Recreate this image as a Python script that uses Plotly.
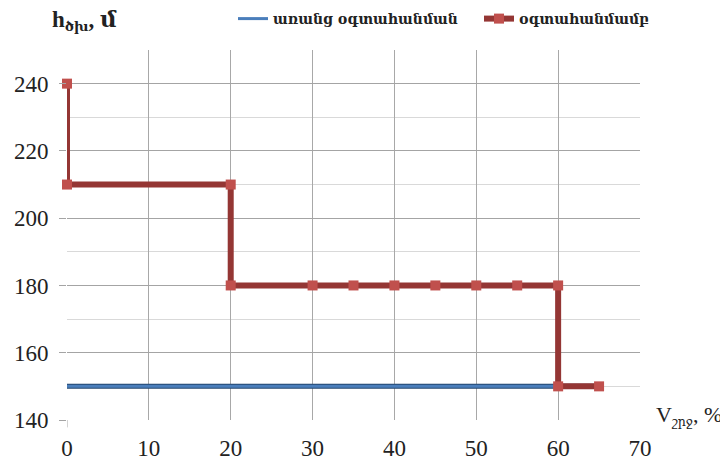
import plotly.graph_objects as go

# Data
blue_name = "առանց օգտահանման"
red_name = "օգտահանմամբ"
blue_x = [0, 65]
blue_y = [150, 150]
red_x = [0, 0, 20, 20, 30, 35, 40, 45, 50, 55, 60, 60, 65]
red_y = [240, 210, 210, 180, 180, 180, 180, 180, 180, 180, 180, 150, 150]
x_ticks = [0, 10, 20, 30, 40, 50, 60, 70]
y_ticks = [140, 160, 180, 200, 220, 240]

FONT = "Liberation Serif, DejaVu Serif"
TXT = "#222222"

# page body has an 8px margin: figure is sized/placed to compensate
PL, PR, PT, PB = 67, 640, 50, 420  # plot area in screen pixels


def px(sx):
    return (sx - PL) / (PR - PL)


def py(sy):
    return (PB - sy) / (PB - PT)


fig = go.Figure()
fig.add_trace(go.Scatter(x=blue_x, y=blue_y, mode="lines", name=blue_name,
                         line=dict(color="#23466e", width=5), showlegend=False,
                         hoverinfo="skip", cliponaxis=False))
fig.add_trace(go.Scatter(x=blue_x, y=blue_y, mode="lines", name=blue_name,
                         line=dict(color="#4a7ebb", width=3), cliponaxis=False))
fig.add_trace(go.Scatter(x=red_x, y=red_y, mode="lines+markers", name=red_name,
                         line=dict(color="#943634", width=6),
                         marker=dict(symbol="square", size=10, color="#c0504d"),
                         cliponaxis=False))

fig.update_layout(
    width=720, height=462,
    margin=dict(l=59, r=88, t=42, b=50, autoexpand=False),
    plot_bgcolor="white", paper_bgcolor="white",
    font=dict(family=FONT, size=23, color=TXT),
    showlegend=True,
    legend=dict(orientation="h", x=px(233), y=py(3),
                xanchor="left", yanchor="top",
                font=dict(family="DejaVu Serif", size=14, color=TXT, weight="bold"),
                bgcolor="rgba(0,0,0,0)", itemwidth=30, entrywidth=201,
                entrywidthmode="pixels"),
    xaxis=dict(range=[0, 70], tickvals=x_ticks, showgrid=True, gridcolor="#a8a8a8",
               gridwidth=1, zeroline=False, showline=False, automargin=False,
               ticks="", ticklabelstandoff=12),
    yaxis=dict(range=[140, 250], tickvals=y_ticks, showgrid=True, gridcolor="#a4a4a4",
               gridwidth=1, zeroline=False, showline=False, automargin=False,
               ticks="outside", ticklen=7, tickcolor="#a4a4a4", ticklabelstandoff=6,
               minor=dict(dtick=10, showgrid=True, gridcolor="#d9d9d9", gridwidth=1)),
    annotations=[
        dict(text="<b>h<span style='font-size:19px'><sub>ծխ</sub></span>, մ</b>",
             xref="paper", yref="paper", x=px(50), y=py(36),
             xanchor="left", yanchor="bottom", showarrow=False,
             font=dict(family=FONT, size=23, color=TXT)),
        dict(text="V<span style='font-size:18px'><sub>շրջ</sub></span>, %",
             xref="paper", yref="paper", x=px(654), y=py(431),
             xanchor="left", yanchor="bottom", showarrow=False,
             font=dict(family=FONT, size=22, color=TXT)),
    ],
)
# small tick below x axis at x=0
fig.add_shape(type="line", xref="x", yref="paper", x0=0, x1=0, y0=0, y1=-0.02,
              line=dict(color="#a8a8a8", width=1))

fig.write_html("out.html")
